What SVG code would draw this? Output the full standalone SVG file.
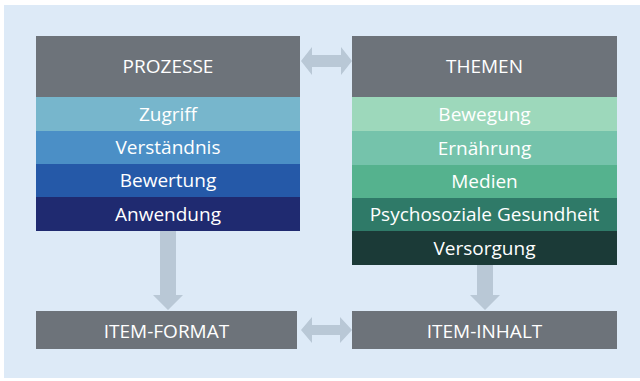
<svg xmlns="http://www.w3.org/2000/svg" width="640" height="381" viewBox="0 0 640 381">
<style>
.t{font-family:"Open Sans","Noto Sans","Liberation Sans",sans-serif;font-size:19px;fill:#ffffff;text-anchor:middle}
.h{fill:#6d737a}
.arr{fill:#b9c8d6}
</style>
<rect x="0" y="0" width="640" height="381" fill="#ffffff"/>
<rect x="4" y="5" width="636" height="373" fill="#ddeaf7"/>
<g id="connectors">
<polygon class="arr" points="301,61 312,47 312,55 341,55 341,47 352,61 341,75 341,67 312,67 312,75"/>
<polygon class="arr" points="301,330 312,317 312,325 340,325 340,317 352,330 340,343 340,335 312,335 312,343"/>
<polygon class="arr" points="160,231 176,231 176,295 183,295 168,310 153,295 160,295"/>
<polygon class="arr" points="477,265 493,265 493,295 500,295 485,310 470,295 477,295"/>
</g>
<g id="prozesse">
<rect class="h" x="36" y="36" width="264" height="61"/>
<text class="t" x="168" y="73">PROZESSE</text>
</g>
<g id="zugriff"><rect x="36" y="97" width="264" height="34" fill="#77b6cc"/><text class="t" x="168" y="120.5">Zugriff</text></g>
<g id="verstaendnis"><rect x="36" y="131" width="264" height="33" fill="#4b8fc6"/><text class="t" x="168" y="154">Verständnis</text></g>
<g id="bewertung"><rect x="36" y="164" width="264" height="33" fill="#2559a8"/><text class="t" x="168" y="187">Bewertung</text></g>
<g id="anwendung"><rect x="36" y="197" width="264" height="34" fill="#1f2a70"/><text class="t" x="168" y="220.5">Anwendung</text></g>
<g id="themen">
<rect class="h" x="352" y="36" width="265" height="61"/>
<text class="t" x="484.5" y="73">THEMEN</text>
</g>
<g id="bewegung"><rect x="352" y="97" width="265" height="34" fill="#9dd8bb"/><text class="t" x="484.5" y="120.5">Bewegung</text></g>
<g id="ernaehrung"><rect x="352" y="131" width="265" height="34" fill="#75c3ab"/><text class="t" x="484.5" y="154.5">Ernährung</text></g>
<g id="medien"><rect x="352" y="165" width="265" height="33" fill="#55b28e"/><text class="t" x="484.5" y="188">Medien</text></g>
<g id="psychosoziale"><rect x="352" y="198" width="265" height="33" fill="#2f7a68"/><text class="t" x="484.5" y="221">Psychosoziale Gesundheit</text></g>
<g id="versorgung"><rect x="352" y="231" width="265" height="34" fill="#1b3a37"/><text class="t" x="484.5" y="254.5">Versorgung</text></g>
<g id="item-format">
<rect class="h" x="36" y="311" width="261" height="38"/>
<text class="t" x="166.5" y="338">ITEM-FORMAT</text>
</g>
<g id="item-inhalt">
<rect class="h" x="352" y="311" width="265" height="38"/>
<text class="t" x="484.5" y="338">ITEM-INHALT</text>
</g>
</svg>
